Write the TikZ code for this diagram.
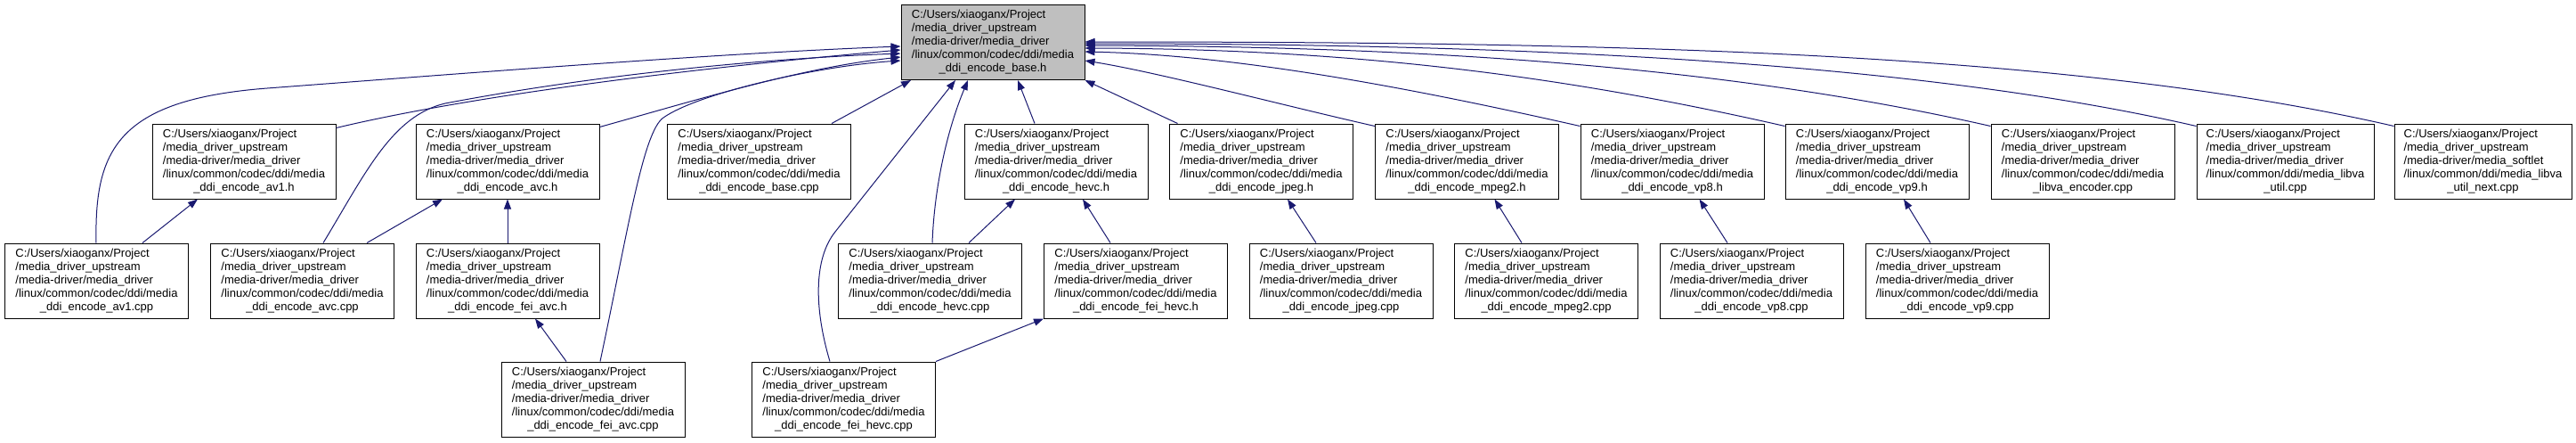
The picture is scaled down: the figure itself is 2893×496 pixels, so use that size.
\documentclass[tikz,border=0pt]{standalone}
\usepackage{fontspec}
\setmainfont{Liberation Sans}
\usetikzlibrary{arrows.meta}
\definecolor{edgeblue}{HTML}{191970}
\definecolor{rootgray}{HTML}{BFBFBF}
\newcommand\filelbl[5]{\begin{tabular}{@{}l@{}}#1\\#2\\#3\\#4\\\multicolumn{1}{@{}c@{}}{#5}\end{tabular}}
\newcommand\stdlbl[1]{\filelbl{C:/Users/xiaoganx/Project}{/media\_driver\_upstream}{/media-driver/media\_driver}{/linux/common/codec/ddi/media}{#1}}
\begin{document}
\begin{tikzpicture}[x=1pt,y=-1pt,
  filebox/.style={draw=black, line width=1pt, fill=white, minimum width=206pt, minimum height=84pt, inner sep=0pt, font=\fontsize{13}{15}\selectfont},
  rootbox/.style={filebox, fill=rootgray},
  edge/.style={draw=edgeblue, line width=1pt, -{Triangle[length=11pt,width=8pt]}}]
\fill[white] (0,0) rectangle (2893,496);
\useasboundingbox (0,0) rectangle (2893,496);

% root
\node[rootbox] (root) at (1115,47.5) {\stdlbl{\_ddi\_encode\_base.h}};

% row 2
\node[filebox] (av1h) at (274,181) {\stdlbl{\_ddi\_encode\_av1.h}};
\node[filebox] (avch) at (570,181) {\stdlbl{\_ddi\_encode\_avc.h}};
\node[filebox] (basecpp) at (852.5,181) {\stdlbl{\_ddi\_encode\_base.cpp}};
\node[filebox] (hevch) at (1186,181) {\stdlbl{\_ddi\_encode\_hevc.h}};
\node[filebox] (jpegh) at (1416.5,181) {\stdlbl{\_ddi\_encode\_jpeg.h}};
\node[filebox] (mpeg2h) at (1647.5,181) {\stdlbl{\_ddi\_encode\_mpeg2.h}};
\node[filebox] (vp8h) at (1878,181) {\stdlbl{\_ddi\_encode\_vp8.h}};
\node[filebox] (vp9h) at (2108,181) {\stdlbl{\_ddi\_encode\_vp9.h}};
\node[filebox] (libvaenc) at (2339,181) {\stdlbl{\_libva\_encoder.cpp}};
\node[filebox, minimum width=199pt] (libvautil) at (2566.5,181) {\filelbl{C:/Users/xiaoganx/Project}{/media\_driver\_upstream}{/media-driver/media\_driver}{/linux/common/ddi/media\_libva}{\_util.cpp}};
\node[filebox, minimum width=199pt] (libvautilnext) at (2788.5,181) {\filelbl{C:/Users/xiaoganx/Project}{/media\_driver\_upstream}{/media-driver/media\_softlet}{/linux/common/ddi/media\_libva}{\_util\_next.cpp}};

% row 3
\node[filebox] (av1cpp) at (108.5,315) {\stdlbl{\_ddi\_encode\_av1.cpp}};
\node[filebox] (avccpp) at (339.5,315) {\stdlbl{\_ddi\_encode\_avc.cpp}};
\node[filebox] (feiavch) at (570,315) {\stdlbl{\_ddi\_encode\_fei\_avc.h}};
\node[filebox] (hevccpp) at (1044.5,315) {\stdlbl{\_ddi\_encode\_hevc.cpp}};
\node[filebox] (feihevch) at (1275.5,315) {\stdlbl{\_ddi\_encode\_fei\_hevc.h}};
\node[filebox] (jpegcpp) at (1506,315) {\stdlbl{\_ddi\_encode\_jpeg.cpp}};
\node[filebox] (mpeg2cpp) at (1736.5,315) {\stdlbl{\_ddi\_encode\_mpeg2.cpp}};
\node[filebox] (vp8cpp) at (1967,315) {\stdlbl{\_ddi\_encode\_vp8.cpp}};
\node[filebox] (vp9cpp) at (2198,315) {\stdlbl{\_ddi\_encode\_vp9.cpp}};

% row 4
\node[filebox] (feiavccpp) at (666,448) {\stdlbl{\_ddi\_encode\_fei\_avc.cpp}};
\node[filebox] (feihevccpp) at (947.5,448) {\stdlbl{\_ddi\_encode\_fei\_hevc.cpp}};

% edges into root, left side
\draw[edge] ([xshift=-0.5pt]av1cpp.north) .. controls (106,170) and (130,112) .. (300,99)
  .. controls (500,84) and (800,60) .. ([yshift=-4.5pt]root.west);
\draw[edge] ([yshift=-5pt]av1h.north east) .. controls (560,100) and (850,70) .. ([yshift=-8.5pt]root.west);
\draw[edge] ([xshift=23.5pt]avccpp.north) .. controls (410,195) and (440,130) .. (500,116)
  .. controls (700,78) and (900,64) .. ([yshift=-12.5pt]root.west);
\draw[edge] ([yshift=-4pt]avch.north east) .. controls (790,110) and (900,76) .. ([yshift=-16.5pt]root.west);
\draw[edge] ([xshift=8pt]feiavccpp.north) .. controls (705,260) and (722,148) .. (745,132)
  .. controls (785,104) and (920,74) .. ([yshift=-20.5pt]root.west);

% edges into root, bottom
\draw[edge] ([xshift=81.5pt]basecpp.north) -- ([xshift=-92pt]root.south);
\draw[edge] ([xshift=-15.5pt]feihevccpp.north) .. controls (914,345) and (914,290) .. (938,260)
  -- ([xshift=-42pt]root.south);
\draw[edge] ([xshift=2.5pt]hevccpp.north) .. controls (1049,215) and (1062,150) .. ([xshift=-28pt]root.south);
\draw[edge] ([xshift=-24pt]hevch.north) -- ([xshift=28pt]root.south);
\draw[edge] ([xshift=9.5pt]jpegh.north west) -- (root.south east);

% edges into root, right side
\draw[edge] ([yshift=-3pt]mpeg2h.north west) .. controls (1440,118) and (1300,81) .. ([yshift=-20.5pt]root.east);
\draw[edge] ([yshift=-3pt]vp8h.north west) .. controls (1608,104) and (1400,62) .. ([yshift=-10.5pt]root.east);
\draw[edge] ([yshift=-3pt]vp9h.north west) .. controls (1769,88) and (1533,55) .. ([yshift=-6.5pt]root.east);
\draw[edge] ([yshift=-3pt]libvaenc.north west) .. controls (1956,78) and (1625,52) .. ([yshift=-3.5pt]root.east);
\draw[edge] ([yshift=-3pt]libvautil.north west) .. controls (2155,70) and (1718,49) .. ([yshift=-1.5pt]root.east);
\draw[edge] ([yshift=-3pt]libvautilnext.north west) .. controls (2321,57) and (1806,47) .. ([yshift=0.5pt]root.east);

% lower edges
\draw[edge] ([xshift=51.5pt]av1cpp.north) -- ([xshift=-52pt]av1h.south);
\draw[edge] ([xshift=72.5pt]avccpp.north) -- ([xshift=-73pt]avch.south);
\draw[edge] (feiavch.north) -- (avch.south);
\draw[edge] ([xshift=-30pt]feiavccpp.north) -- ([xshift=31pt]feiavch.south);
\draw[edge] ([xshift=43.5pt]hevccpp.north) -- ([xshift=-46pt]hevch.south);
\draw[edge] ([xshift=-28.5pt]feihevch.north) -- ([xshift=30pt]hevch.south);
\draw[edge] (feihevccpp.north east) -- (feihevch.south west);
\draw[edge] ([xshift=-28pt]jpegcpp.north) -- ([xshift=29.5pt]jpegh.south);
\draw[edge] ([xshift=-27.5pt]mpeg2cpp.north) -- ([xshift=31pt]mpeg2h.south);
\draw[edge] ([xshift=-27pt]vp8cpp.north) -- ([xshift=30.5pt]vp8h.south);
\draw[edge] ([xshift=-30pt]vp9cpp.north) -- ([xshift=30pt]vp9h.south);
\end{tikzpicture}
\end{document}
